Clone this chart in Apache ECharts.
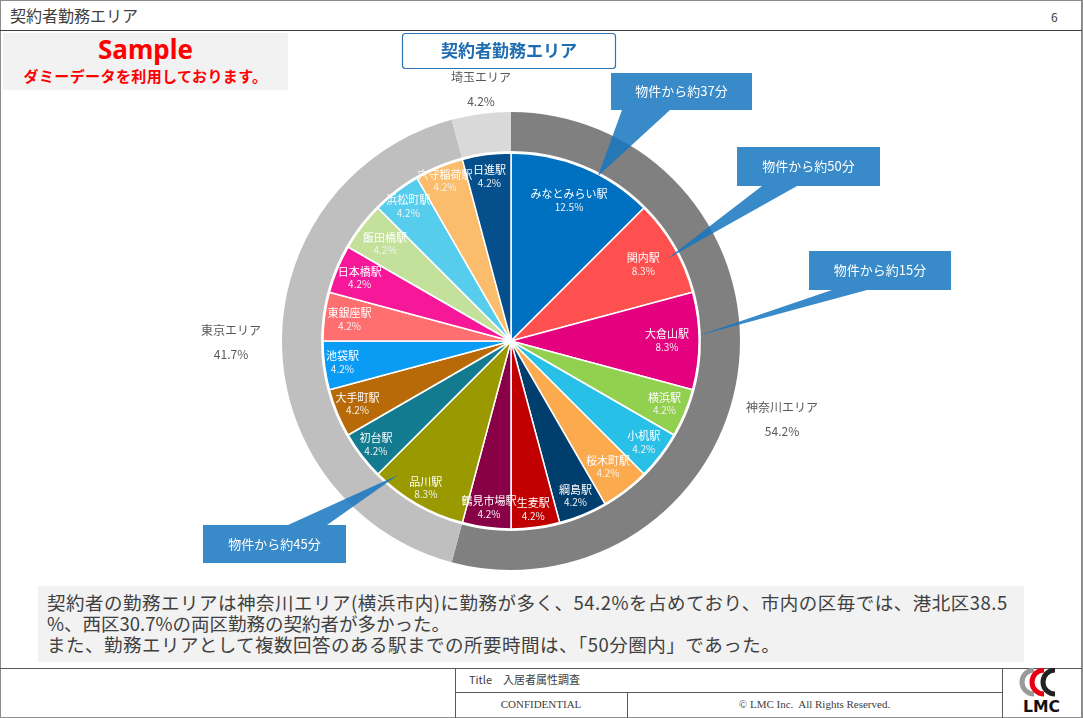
<!DOCTYPE html>
<html>
<head>
<meta charset="utf-8">
<script src="https://cdn.jsdelivr.net/npm/echarts@6/dist/echarts.min.js"></script>
<style>
html,body{margin:0;padding:0;background:#fff;}
#page{position:relative;width:1083px;height:718px;overflow:hidden;background:#fff;font-family:"Noto Sans CJK JP","Noto Sans",sans-serif;color:#404040;}
.ln{position:absolute;background:#595959;}
.bd{position:absolute;background:#8c8c8c;}
#hdr{position:absolute;left:10px;top:4px;font-size:16px;line-height:22px;color:#404040;}
#pgno{position:absolute;left:1051px;top:8px;font-size:12px;line-height:18px;color:#404040;}
#sample{position:absolute;left:3px;top:33px;width:285px;height:57px;background:#f2f2f2;text-align:center;color:#ff0000;font-weight:bold;}
#sample .s1{position:absolute;left:0;width:100%;top:1px;font-size:26px;line-height:30px;font-family:"Noto Sans","Noto Sans CJK JP",sans-serif;}
#sample .s2{position:absolute;left:0;width:100%;top:33px;font-size:15px;line-height:20px;letter-spacing:0.4px;}
#note{position:absolute;left:38px;top:586px;width:986px;height:76px;background:#f2f2f2;}
#note div{position:absolute;left:9px;font-size:18.5px;line-height:21px;white-space:nowrap;color:#404040;}
.ft{position:absolute;font-size:11px;line-height:14px;color:#404040;white-space:nowrap;}
.serif{font-family:"Liberation Serif","DejaVu Serif",serif;}
#chart{position:absolute;left:0;top:0;width:1083px;height:718px;}
</style>
</head>
<body>
<div id="page">
  <div class="bd" style="left:0;top:0;width:1083px;height:1px;"></div>
  <div class="bd" style="left:0;top:0;width:1px;height:718px;"></div>
  <div class="bd" style="left:1081px;top:0;width:2px;height:718px;"></div>
  <div class="bd" style="left:0;top:717px;width:1083px;height:1px;"></div>
  <div id="hdr">契約者勤務エリア</div>
  <div id="pgno">6</div>
  <div class="ln" style="left:0;top:30px;width:1082px;height:1px;background:#404040;"></div>
  <div id="sample"><div class="s1">Sample</div><div class="s2">ダミーデータを利用しております。</div></div>
  <div id="note">
    <div style="top:6px;letter-spacing:0.5px;">契約者の勤務エリアは神奈川エリア(横浜市内)に勤務が多く、54.2%を占めており、市内の区毎では、港北区38.5</div>
    <div style="top:27px;">%、西区30.7%の両区勤務の契約者が多かった。</div>
    <div style="top:48px;letter-spacing:0.5px;">また、勤務エリアとして複数回答のある駅までの所要時間は、「50分圏内」であった。</div>
  </div>
  <div class="ln" style="left:0;top:668px;width:1082px;height:1px;"></div>
  <div class="ln" style="left:455px;top:668px;width:1px;height:50px;"></div>
  <div class="ln" style="left:455px;top:692px;width:547px;height:1px;"></div>
  <div class="ln" style="left:627px;top:692px;width:1px;height:26px;"></div>
  <div class="ln" style="left:1002px;top:668px;width:1px;height:50px;"></div>
  <div class="ft" style="left:469px;top:672px;">Title　入居者属性調査</div>
  <div class="ft serif" style="left:455px;width:172px;text-align:center;top:697px;">CONFIDENTIAL</div>
  <div class="ft serif" style="left:627px;width:375px;text-align:center;top:697px;">© LMC Inc.&nbsp; All Rights Reserved.</div>
  <svg style="position:absolute;left:1015px;top:668px;" width="52" height="48" viewBox="0 0 52 48">
    <path d="M 19 2 A 12 12 0 1 0 19 26" fill="none" stroke="#9a9a9a" stroke-width="5"/>
    <path d="M 29 2 A 12 12 0 1 0 29 26" fill="none" stroke="#e60012" stroke-width="5"/>
    <path d="M 40 2 A 12 12 0 1 0 40 26" fill="none" stroke="#222" stroke-width="5"/>
    <text x="8" y="44" font-family="DejaVu Sans, sans-serif" font-weight="bold" font-size="16" fill="#111" textLength="37" lengthAdjust="spacingAndGlyphs">LMC</text>
  </svg>
  <div id="chart"></div>
</div>
<script>
// ---- data ----
const stations = ['みなとみらい駅','関内駅','大倉山駅','横浜駅','小机駅','桜木町駅','綱島駅','生麦駅','鶴見市場駅','品川駅','初台駅','大手町駅','池袋駅','東銀座駅','日本橋駅','飯田橋駅','浜松町駅','穴守稲荷駅','日進駅'];
const stationCounts = [3,2,2,1,1,1,1,1,1,2,1,1,1,1,1,1,1,1,1];
const areas = ['神奈川エリア','東京エリア','埼玉エリア'];
const areaCounts = [13,10,1];
const calloutTexts = ['物件から約37分','物件から約50分','物件から約15分','物件から約45分'];
const chartTitle = '契約者勤務エリア';

// ---- styles / layout ----
const FONT = '"Noto Sans CJK JP", "Noto Sans", sans-serif';
const stationColors = ['#0070c0','#ff5050','#e4007f','#92d050','#29c0e8','#fbab4e','#003e6e','#c00000','#880045','#9a9a00','#137b8f','#b86a08','#0a9bf5','#ff6f6f','#f7189a','#c3e19b','#57cdee','#fbbd6b','#044f8c'];
const areaColors = ['#808080','#bfbfbf','#d9d9d9'];
const CX = 511, CY = 341;
// distance (px) of each inner label centre from the pie centre
const labelDist = [152,153,156,166,167,159,168,170,168,170,170,166,170,163,164,159,169,173,166];
const areaLabelOffsets = [[271,78],[-280,1],[-30,-252]];
// callout boxes: [x0,y0,x1,y1], wedge base x range, which edge, tip
const calloutLayout = [
  {box:[611,73,752,110], base:[622,670], edge:'bottom', tip:[598,176]},
  {box:[737,147,880,186], base:[762,797], edge:'bottom', tip:[667,259]},
  {box:[809,251,951,290], base:[832,867], edge:'bottom', tip:[697,336]},
  {box:[203,525,346,563], base:[288,327], edge:'top', tip:[398,475]}
];

const stationTotal = stationCounts.reduce((a,b)=>a+b,0);
const areaTotal = areaCounts.reduce((a,b)=>a+b,0);

const graphics = [];
calloutLayout.forEach(function(c, i){
  const [x0,y0,x1,y1] = c.box;
  let pts;
  if (c.edge === 'bottom') {
    pts = [[x0,y0],[x1,y0],[x1,y1],[c.base[1],y1],c.tip,[c.base[0],y1],[x0,y1]];
  } else {
    pts = [[x0,y0],[c.base[0],y0],c.tip,[c.base[1],y0],[x1,y0],[x1,y1],[x0,y1]];
  }
  graphics.push({type:'polygon', z:100, shape:{points:pts}, style:{fill:'rgba(21,117,190,0.85)'}, silent:true});
  graphics.push({type:'text', z:101, style:{text:calloutTexts[i], x:(x0+x1)/2, y:(y0+y1)/2, align:'center', verticalAlign:'middle', fill:'#ffffff', font:'13px ' + FONT}, silent:true});
});

const chart = echarts.init(document.getElementById('chart'));
chart.setOption({
  animation: false,
  backgroundColor: 'transparent',
  textStyle: {fontFamily: FONT},
  title: {
    text: chartTitle, left: 402, top: 33, padding: [8, 39, 8, 39],
    borderColor: '#2e75b6', borderWidth: 1.2, borderRadius: 3, backgroundColor: '#fff',
    textStyle: {color: '#1f6cb0', fontSize: 17, fontWeight: 'bold', fontFamily: FONT, lineHeight: 20}
  },
  graphic: graphics,
  series: [
    {
      type: 'pie', center: [CX, CY], radius: [0, 188], startAngle: 90, clockwise: true,
      avoidLabelOverlap: false, silent: true,
      emphasis: {disabled: true},
      itemStyle: {borderColor: '#ffffff', borderWidth: 1.5},
      data: stations.map(function(n, i){ return {name: n, value: stationCounts[i], itemStyle: {color: stationColors[i]}}; }),
      label: {
        show: true, position: 'inside',
        formatter: function(p){ return '{n|' + p.name + '}\n{p|' + (p.value / stationTotal * 100).toFixed(1) + '%}'; },
        rich: {
          n: {fontSize: 11, color: '#ffffff', lineHeight: 13, fontFamily: FONT},
          p: {fontSize: 10, color: '#f2f2f2', lineHeight: 13, fontFamily: FONT}
        }
      },
      labelLine: {show: false},
      labelLayout: function(p){
        const r = p.labelRect;
        const lx = r.x + r.width / 2 - CX, ly = r.y + r.height / 2 - CY;
        const len = Math.sqrt(lx * lx + ly * ly) || 1;
        const d = labelDist[p.dataIndex];
        return {x: CX + lx / len * d, y: CY + ly / len * d, align: 'center', verticalAlign: 'middle'};
      }
    },
    {
      type: 'pie', center: [CX, CY], radius: [190, 229], startAngle: 90, clockwise: true,
      avoidLabelOverlap: false, silent: true,
      emphasis: {disabled: true},
      itemStyle: {borderWidth: 0},
      data: areas.map(function(n, i){ return {name: n, value: areaCounts[i], itemStyle: {color: areaColors[i]}}; }),
      label: {
        show: true, position: 'outside',
        formatter: function(p){ return '{n|' + p.name + '}\n{p|' + (p.value / areaTotal * 100).toFixed(1) + '%}'; },
        rich: {
          n: {fontSize: 12, color: '#595959', lineHeight: 24, fontFamily: FONT},
          p: {fontSize: 12, color: '#595959', lineHeight: 24, fontFamily: FONT}
        }
      },
      labelLine: {show: false},
      labelLayout: function(p){
        const o = areaLabelOffsets[p.dataIndex];
        return {x: CX + o[0], y: CY + o[1], align: 'center', verticalAlign: 'middle'};
      }
    }
  ]
});
</script>
</body>
</html>
